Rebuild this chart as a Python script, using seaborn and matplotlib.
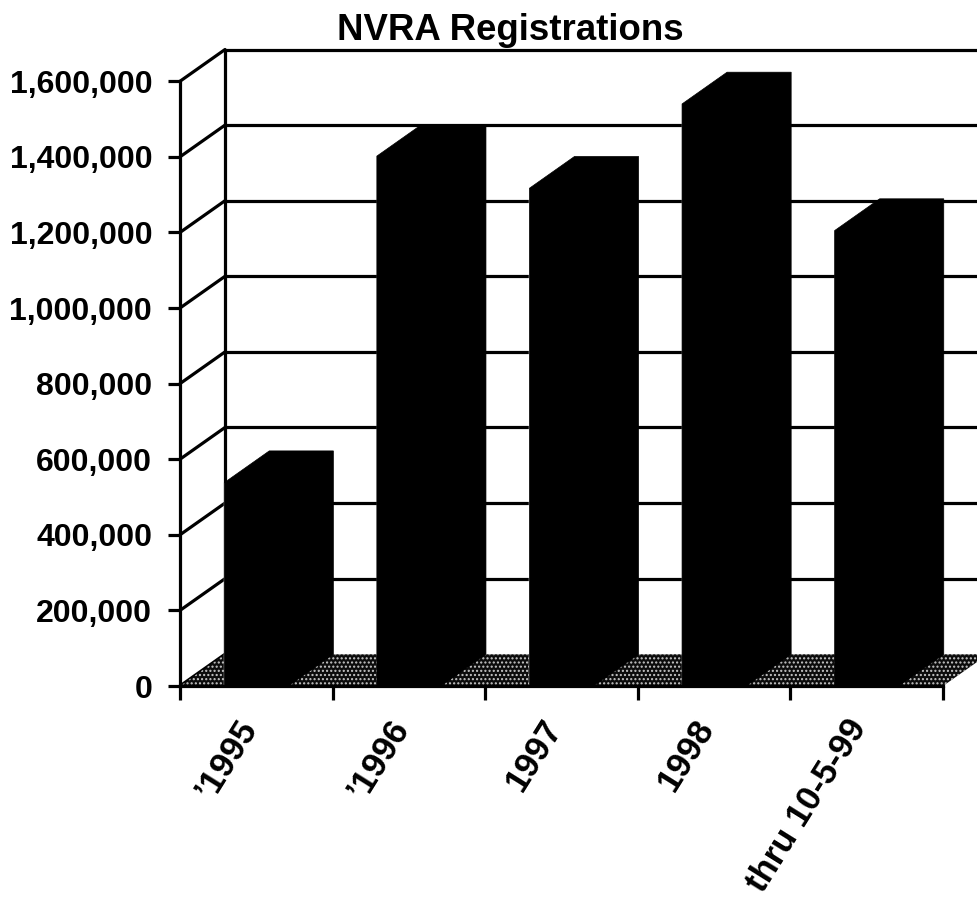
import matplotlib
matplotlib.use("Agg")
import matplotlib.pyplot as plt
import seaborn as sns
from matplotlib.patches import Polygon
from matplotlib.ticker import FuncFormatter
from matplotlib.transforms import ScaledTranslation

title = "NVRA Registrations"
categories = ["\u20191995", "\u20191996", "1997", "1998", "thru 10-5-99"]
registrations = [538000, 1402000, 1317000, 1540000, 1205000]
y_ticks = [0, 200000, 400000, 600000, 800000, 1000000, 1200000, 1400000, 1600000]

# pseudo-3D depth of the box, in data units
depth_x = 0.295
depth_y = 84000
LW = 2.3

sns.set_style("white")
plt.rcParams["font.family"] = ["Liberation Sans", "DejaVu Sans"]
plt.rcParams["font.weight"] = "bold"

fig = plt.figure(figsize=(9.77, 9.10), dpi=100)
ax = fig.add_axes([180 / 977, 1 - 686 / 910, 797 / 977, 638 / 910])

sns.barplot(x=categories, y=registrations, color="black", saturation=1,
            width=0.42, ax=ax, zorder=5)

left, right = -0.5, len(categories) - 0.5
ax.set_xlim(left, left + 797 / 152.6)
ax.set_ylim(0, 1688000)

# back wall and side wall
for v in y_ticks:
    ax.plot([left, left + depth_x], [v, v + depth_y], color="black", lw=LW,
            clip_on=False, zorder=2, solid_capstyle="round")
    if v > 0:
        ax.plot([left + depth_x, 6], [v + depth_y, v + depth_y], color="black",
                lw=LW, clip_on=False, zorder=2)
ax.plot([left + depth_x] * 2, [depth_y, y_ticks[-1] + depth_y], color="black",
        lw=LW, clip_on=False, zorder=2)

# floor
floor = Polygon([(left, 0), (left + depth_x, depth_y),
                 (right + depth_x, depth_y), (right, 0)], closed=True,
                facecolor="#0c0c0c", edgecolor="#c8c8c8", hatch="....",
                linewidth=0, zorder=3, clip_on=False)
ax.add_patch(floor)

# extrude each bar
for bar in list(ax.patches):
    if bar is floor:
        continue
    x0, x1, h = bar.get_x(), bar.get_x() + bar.get_width(), bar.get_height()
    ax.add_patch(Polygon([(x0, 0), (x0, h), (x0 + depth_x, h + depth_y),
                          (x1 + depth_x, h + depth_y), (x1 + depth_x, depth_y),
                          (x1, 0)], closed=True, facecolor="black",
                         edgecolor="black", linewidth=0.5, zorder=5))

sns.despine(ax=ax, top=True, right=True)
for side in ("left", "bottom"):
    ax.spines[side].set_linewidth(LW)
    ax.spines[side].set_color("black")
    ax.spines[side].set_zorder(6)
ax.spines["left"].set_bounds(0, y_ticks[-1])
ax.spines["bottom"].set_bounds(left, right)

ax.set_yticks(y_ticks)
ax.yaxis.set_major_formatter(FuncFormatter(lambda v, _: f"{int(v):,}"))
ax.tick_params(axis="y", left=True, length=9, width=LW, pad=11, labelsize=23,
               color="black", labelcolor="black")
ax.set_xticks(range(len(categories)))
ax.set_xticklabels(categories, rotation=58, ha="right", va="top",
                   rotation_mode="anchor", fontsize=25, color="black")
ax.tick_params(axis="x", which="major", bottom=False, length=0, pad=20)
ax.set_xticks([left + i for i in range(len(categories) + 1)], minor=True)
ax.tick_params(axis="x", which="minor", bottom=True, length=10, width=LW, color="black")
shift = ScaledTranslation(-21 / 100, 0, fig.dpi_scale_trans)
for lab in ax.get_xticklabels():
    lab.set_transform(lab.get_transform() + shift)
ax.set_xlabel("")
ax.set_ylabel("")
ax.grid(False)
ax.set_title(title, fontsize=26.4, fontweight="bold", pad=6,
             x=(510.5 - 180) / 797, color="black")

fig.savefig("out.png", dpi=100)
